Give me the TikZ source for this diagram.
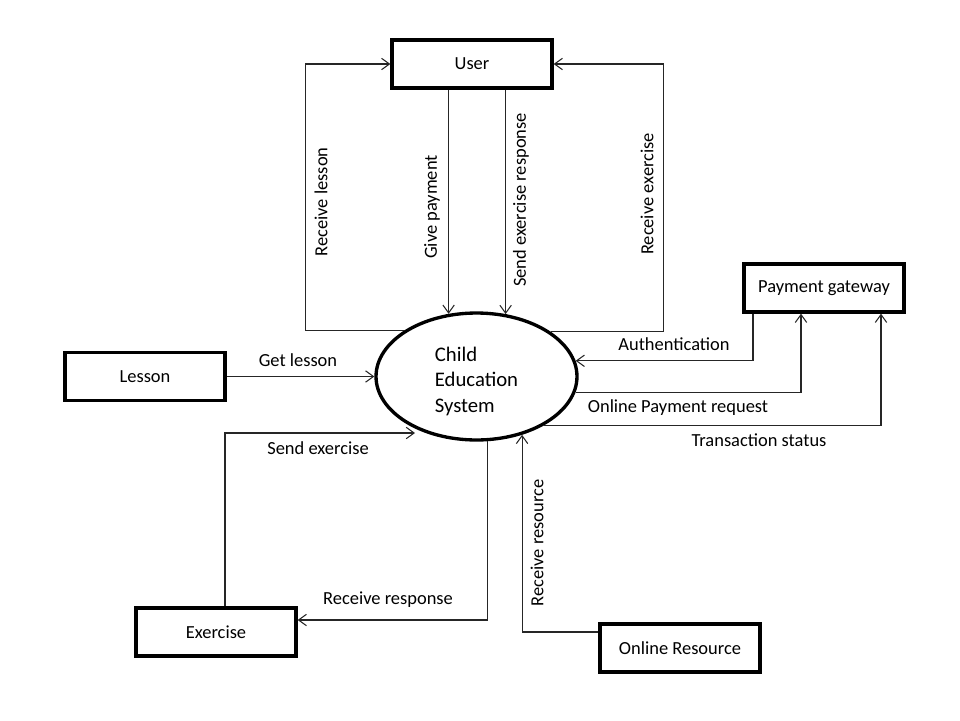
\documentclass[tikz,border=0pt]{standalone}
\usepackage{fontspec}
\setmainfont{Carlito}
\usetikzlibrary{arrows.meta,shapes.geometric}

\begin{document}
\begin{tikzpicture}[x=0.02cm,y=-0.02cm,
    box/.style={draw,line width=1.9pt,minimum width=3.2cm,minimum height=0.96cm,inner sep=0pt,font=\fontsize{10.5}{12.6}\selectfont},
    flow/.style={draw=black!85,line width=0.6pt,-{Straight Barb[length=4.5pt,width=6.5pt]}},
    lbl/.style={inner sep=0pt,font=\fontsize{10.5}{12.6}\selectfont}]
        \useasboundingbox (0,0) rectangle (960,720);

        \node[box] (user) at (472,64) {User};
        \node[box] (gateway) at (824,288) {Payment gateway};
        \node[box] (lesson) at (145,376.5) {Lesson};
        \node[box] (exercise) at (216,632) {Exercise};
        \node[box] (resource) at (680,648) {Online Resource};
        \node[draw,ellipse,line width=1.9pt,minimum width=4.02cm,minimum height=2.54cm,inner sep=0pt,
            label={[name=cestext,align=left,inner sep=0pt,yshift=-0.09cm,font=\fontsize{11.8}{14.5}\selectfont]center:Child\\Education\\System}] (ces) at (476.5,376.5) {}; % Process.

        \coordinate (sendtip) at (415,433);

        \draw[flow] (ces.148.2) -| ([xshift=-1.7cm]user.west) -- (user.west);
        \draw[flow] (ces.31.8) -| ([xshift=2.2cm]user.east) -- (user.east);
        \draw[flow] (ces.114.2 |- user.south) -- (ces.114.2);
        \draw[flow] (ces.65.8 |- user.south) -- (ces.65.8);

        \draw[flow] ([xshift=-1.42cm]gateway.south) |- (ces.9);
        \draw[flow] (ces.-9) -| ([xshift=-0.46cm]gateway.south);
        \draw[flow] (ces.-36.8) -| ([xshift=1.14cm]gateway.south);

        \draw[flow] (lesson.east) -- (ces.west);
        \draw[flow] ([xshift=0.18cm]exercise.north) |- (sendtip);
        \draw[flow] (ces.-80.6) |- ([yshift=0.24cm]exercise.east);
        \draw[flow] ([yshift=0.32cm]resource.west) -| (ces.-52);

        \node[lbl,rotate=90] (rlesson) at (321,202) {Receive lesson};
        \node[lbl,rotate=90] (gpay) at (432,207) {Give payment};
        \node[lbl,rotate=90] (sresp) at (521,200) {Send exercise response};
        \node[lbl,rotate=90] (rex) at (647,194) {Receive exercise};
        \node[lbl] (auth) at (674,344) {Authentication};
        \node[lbl] (preq) at (678,408) {Online Payment request};
        \node[lbl] (tstat) at (759,440) {Transaction status};
        \node[lbl] (glesson) at (298,360) {Get lesson};
        \node[lbl] (sex) at (318,448) {Send exercise};
        \node[lbl] (rresp) at (388,600) {Receive response};
        \node[lbl,rotate=90] (rres) at (537,543) {Receive resource};
    \end{tikzpicture}
\end{document}
